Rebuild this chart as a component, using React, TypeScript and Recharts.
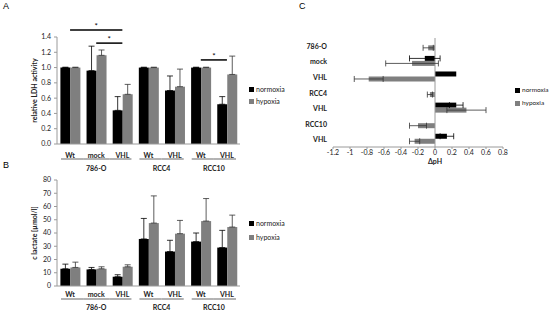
import React from 'react';
import { BarChart, Bar, XAxis, YAxis, ErrorBar, ReferenceLine, Legend, Label } from 'recharts';

const FONT = 'Lato, "Liberation Sans", sans-serif';
const BLACK = '#000000';
const GREY = '#7f7f7f';
const AXIS = '#9a9a9a';
const TEXT = '#222222';

// ---- shared categories (panels A and B) ----
const CATEGORY_KEYS = ['786-O Wt', '786-O mock', '786-O VHL', 'RCC4 Wt', 'RCC4 VHL', 'RCC10 Wt', 'RCC10 VHL'];
const CATEGORY_LABELS = ['Wt', 'mock', 'VHL', 'Wt', 'VHL', 'Wt', 'VHL'];
const CATEGORY_GROUPS = ['786-O', '786-O', '786-O', 'RCC4', 'RCC4', 'RCC10', 'RCC10'];

// ---- panel A: relative LDH activity ----
const LDH_NORMOXIA = [1.0, 0.96, 0.44, 1.0, 0.7, 1.0, 0.52];
const LDH_NORMOXIA_ERR = [0.005, 0.32, 0.18, 0.005, 0.19, 0.005, 0.1];
const LDH_HYPOXIA = [1.0, 1.16, 0.65, 1.0, 0.75, 1.0, 0.91];
const LDH_HYPOXIA_ERR = [0.005, 0.07, 0.13, 0.005, 0.23, 0.005, 0.24];
const LDH_TICKS = [0, 0.2, 0.4, 0.6, 0.8, 1.0, 1.2, 1.4];
const LDH_SIGNIF_FROM = ['786-O Wt', '786-O mock', 'RCC10 Wt'];
const LDH_SIGNIF_TO = ['786-O VHL', '786-O VHL', 'RCC10 VHL'];
const LDH_SIGNIF_LEVEL = [1.49, 1.32, 1.1];

// ---- panel B: c lactate ----
const LACTATE_NORMOXIA = [13, 12.5, 7, 35.5, 26, 33.5, 29];
const LACTATE_NORMOXIA_ERR = [3.5, 1.5, 1.5, 15.5, 8.5, 6.5, 13];
const LACTATE_HYPOXIA = [14, 13, 14.5, 47.5, 39.5, 49, 44.5];
const LACTATE_HYPOXIA_ERR = [4, 1.5, 1.5, 20.5, 10, 17, 9];
const LACTATE_TICKS = [0, 10, 20, 30, 40, 50, 60, 70, 80];

// ---- panel C: delta pH ----
const PH_KEYS = ['786-O', 'mock', 'VHL a', 'RCC4', 'VHL b', 'RCC10', 'VHL c'];
const PH_LABELS = ['786-O', 'mock', 'VHL', 'RCC4', 'VHL', 'RCC10', 'VHL'];
const PH_NORMOXIA = [0, -0.12, 0.25, 0, 0.25, 0, 0.14];
const PH_NORMOXIA_ERR = [0, 0.18, 0, 0, 0.08, 0, 0.08];
const PH_HYPOXIA = [-0.08, -0.27, -0.78, -0.06, 0.37, -0.2, -0.24];
const PH_HYPOXIA_ERR = [0.06, 0.31, 0.17, 0.03, 0.23, 0.1, 0.06];
const PH_TICKS = [-1.2, -1, -0.8, -0.6, -0.4, -0.2, 0, 0.2, 0.4, 0.6, 0.8];

const SERIES_NAMES = ['normoxia', 'hypoxia'];

const ldhData = CATEGORY_KEYS.map((key, i) => ({
  key,
  normoxia: LDH_NORMOXIA[i],
  normoxiaErr: [0, LDH_NORMOXIA_ERR[i]],
  hypoxia: LDH_HYPOXIA[i],
  hypoxiaErr: [0, LDH_HYPOXIA_ERR[i]],
}));

const lactateData = CATEGORY_KEYS.map((key, i) => ({
  key,
  normoxia: LACTATE_NORMOXIA[i],
  normoxiaErr: [0, LACTATE_NORMOXIA_ERR[i]],
  hypoxia: LACTATE_HYPOXIA[i],
  hypoxiaErr: [0, LACTATE_HYPOXIA_ERR[i]],
}));

const phData = PH_KEYS.map((key, i) => ({
  key,
  normoxia: PH_NORMOXIA[i],
  normoxiaErr: PH_NORMOXIA_ERR[i],
  hypoxia: PH_HYPOXIA[i],
  hypoxiaErr: PH_HYPOXIA_ERR[i],
}));

// layout constants
const AB_WIDTH = 300;
const AB_Y_AXIS_W = 57;
const AB_RIGHT = 60;
const AB_BAND = (AB_WIDTH - AB_Y_AXIS_W - AB_RIGHT) / CATEGORY_KEYS.length;

function makeGroupedTick(labelDy: number, lineDy: number, groupDy: number) {
  return function GroupedTick(props: any) {
    const { x, y, payload } = props;
    const i = CATEGORY_KEYS.indexOf(payload.value);
    const group = CATEGORY_GROUPS[i];
    const first = i === 0 || CATEGORY_GROUPS[i - 1] !== group;
    const last = i === CATEGORY_KEYS.length - 1 || CATEGORY_GROUPS[i + 1] !== group;
    const count = CATEGORY_GROUPS.filter((g) => g === group).length;
    const x1 = x - AB_BAND / 2 + (first ? 4 : 0);
    const x2 = x + AB_BAND / 2 - (last ? 4 : 0);
    return (
      <g>
        <text x={x} y={y + labelDy} textAnchor="middle" dominantBaseline="central" fontFamily={FONT} fontSize={7} fontWeight="bold" fill={TEXT}>
          {CATEGORY_LABELS[i]}
        </text>
        <line x1={x1} x2={x2} y1={y + lineDy} y2={y + lineDy} stroke="#8a8a8a" strokeWidth={1.3} />
        {first && (
          <text x={x + ((count - 1) * AB_BAND) / 2} y={y + groupDy} textAnchor="middle" dominantBaseline="central" fontFamily={FONT} fontSize={7} fontWeight="bold" fill={TEXT}>
            {group}
          </text>
        )}
      </g>
    );
  };
}

const TickA = makeGroupedTick(11, 15, 24);
const TickB = makeGroupedTick(8, 13, 21);

function PhTick(props: any) {
  const { x, y, payload } = props;
  const i = PH_KEYS.indexOf(payload.value);
  return (
    <text x={x} y={y} textAnchor="end" dominantBaseline="central" fontFamily={FONT} fontSize={7} fontWeight="bold" fill={TEXT}>
      {PH_LABELS[i]}
    </text>
  );
}

function makeYTitle(title: string, xPos: number) {
  return function YTitle(props: any) {
    const vb = props.viewBox || {};
    const cy = vb.y + vb.height / 2;
    return (
      <text x={xPos} y={cy} transform={`rotate(-90 ${xPos} ${cy})`} textAnchor="middle" dominantBaseline="central" fontFamily={FONT} fontSize={7} fontWeight="bold" fill={TEXT}>
        {title}
      </text>
    );
  };
}

function makeLegend(rowH: number, fontSize: number) {
  return function LegendContent(props: any) {
    const payload = [...(props.payload || [])].sort(
      (a: any, b: any) => SERIES_NAMES.indexOf(a.value) - SERIES_NAMES.indexOf(b.value)
    );
    return (
      <div style={{ fontFamily: FONT, fontSize, color: TEXT, lineHeight: 1 }}>
        {payload.map((p: any) => (
          <div key={p.value} style={{ display: 'flex', alignItems: 'center', height: rowH, whiteSpace: 'nowrap' }}>
            <span style={{ display: 'inline-block', width: 5, height: 5, background: p.color, marginRight: 2, flex: 'none' }} />
            <span>{p.value}</span>
          </div>
        ))}
      </div>
    );
  };
}

const tickStyle = { fontSize: 7, fill: TEXT, fontFamily: FONT };

export default function App() {
  return (
    <div style={{ position: 'absolute', left: 0, top: 0, width: 550, height: 313, background: '#fff', overflow: 'hidden' }}>
      <div style={{ position: 'absolute', left: 3, top: 1, fontFamily: '"Liberation Sans", Arial, sans-serif', fontSize: 9 }}>A</div>
      <div style={{ position: 'absolute', left: 3, top: 160, fontFamily: '"Liberation Sans", Arial, sans-serif', fontSize: 9 }}>B</div>
      <div style={{ position: 'absolute', left: 299, top: 1, fontFamily: '"Liberation Sans", Arial, sans-serif', fontSize: 9 }}>C</div>

      {/* Panel A */}
      <div style={{ position: 'absolute', left: 0, top: 0 }}>
        <BarChart width={AB_WIDTH} height={180} data={ldhData} margin={{ top: 37, right: AB_RIGHT, bottom: 0, left: 0 }} barCategoryGap="13%" barGap={0}>
          <XAxis dataKey="key" height={36} interval={0} tickSize={0} tickMargin={0} axisLine={{ stroke: AXIS }} tick={<TickA />} />
          <YAxis width={AB_Y_AXIS_W} domain={[0, 1.4]} ticks={LDH_TICKS} interval={0} tickSize={3} tickMargin={3} tickFormatter={(v: number) => v.toFixed(1)} axisLine={{ stroke: AXIS }} tickLine={{ stroke: AXIS }} tick={tickStyle}>
            <Label content={makeYTitle('relative LDH activity', 34)} />
          </YAxis>
          <Bar dataKey="normoxia" name={SERIES_NAMES[0]} fill={BLACK} isAnimationActive={false}>
            <ErrorBar dataKey="normoxiaErr" direction="y" width={3} stroke={BLACK} strokeWidth={0.8} />
          </Bar>
          <Bar dataKey="hypoxia" name={SERIES_NAMES[1]} fill={GREY} isAnimationActive={false}>
            <ErrorBar dataKey="hypoxiaErr" direction="y" width={3} stroke="#333" strokeWidth={0.8} />
          </Bar>
          {LDH_SIGNIF_FROM.map((from, i) => (
            <ReferenceLine
              key={i}
              ifOverflow="visible"
              segment={[{ x: from, y: LDH_SIGNIF_LEVEL[i] }, { x: LDH_SIGNIF_TO[i], y: LDH_SIGNIF_LEVEL[i] }]}
              stroke={BLACK}
              strokeWidth={1.5}
              label={{ value: '*', position: 'top', offset: 1, fontSize: 8, fill: BLACK, fontFamily: FONT }}
            />
          ))}
          <Legend layout="vertical" align="center" verticalAlign="middle" wrapperStyle={{ left: 249, top: 83, width: 50 }} content={makeLegend(12, 7)} />
        </BarChart>
      </div>

      {/* Panel B */}
      <div style={{ position: 'absolute', left: 0, top: 160 }}>
        <BarChart width={AB_WIDTH} height={153} data={lactateData} margin={{ top: 20, right: AB_RIGHT, bottom: 0, left: 0 }} barCategoryGap="13%" barGap={0}>
          <XAxis dataKey="key" height={27} interval={0} tickSize={0} tickMargin={0} axisLine={{ stroke: AXIS }} tick={<TickB />} />
          <YAxis width={AB_Y_AXIS_W} domain={[0, 80]} ticks={LACTATE_TICKS} interval={0} tickSize={3} tickMargin={3} axisLine={{ stroke: AXIS }} tickLine={{ stroke: AXIS }} tick={tickStyle}>
            <Label content={makeYTitle('c lactate [µmol/l]', 34)} />
          </YAxis>
          <Bar dataKey="normoxia" name={SERIES_NAMES[0]} fill={BLACK} isAnimationActive={false}>
            <ErrorBar dataKey="normoxiaErr" direction="y" width={3} stroke={BLACK} strokeWidth={0.8} />
          </Bar>
          <Bar dataKey="hypoxia" name={SERIES_NAMES[1]} fill={GREY} isAnimationActive={false}>
            <ErrorBar dataKey="hypoxiaErr" direction="y" width={3} stroke="#333" strokeWidth={0.8} />
          </Bar>
          <Legend layout="vertical" align="center" verticalAlign="middle" wrapperStyle={{ left: 249, top: 56, width: 50 }} content={makeLegend(14, 7)} />
        </BarChart>
      </div>

      {/* Panel C */}
      <div style={{ position: 'absolute', left: 280, top: 0 }}>
        <BarChart layout="vertical" width={270} height={175} data={phData} margin={{ top: 38, right: 47, bottom: 0, left: 0 }} barCategoryGap="15%" barGap={0}>
          <XAxis type="number" domain={[-1.2, 0.8]} ticks={PH_TICKS} interval={0} height={28} tickSize={2} tickMargin={1} tickFormatter={(v: number) => String(v)} axisLine={{ stroke: AXIS }} tickLine={{ stroke: AXIS }} tick={tickStyle} />
          <YAxis type="category" dataKey="key" width={53} interval={0} axisLine={false} tickLine={false} tickSize={0} tickMargin={6} tick={<PhTick />} />
          <ReferenceLine x={0} stroke={AXIS} ifOverflow="visible" label={{ value: 'ΔpH', position: 'bottom', offset: 12, fontSize: 7, fontWeight: 'bold', fill: TEXT, fontFamily: FONT }} />
          <Bar dataKey="normoxia" name={SERIES_NAMES[0]} fill={BLACK} isAnimationActive={false}>
            <ErrorBar dataKey="normoxiaErr" direction="x" width={3} stroke={BLACK} strokeWidth={0.8} />
          </Bar>
          <Bar dataKey="hypoxia" name={SERIES_NAMES[1]} fill={GREY} isAnimationActive={false}>
            <ErrorBar dataKey="hypoxiaErr" direction="x" width={3} stroke="#333" strokeWidth={0.8} />
          </Bar>
          <Legend layout="vertical" align="center" verticalAlign="middle" wrapperStyle={{ left: 235, top: 84, width: 35 }} content={makeLegend(13, 6.5)} />
        </BarChart>
      </div>
    </div>
  );
}
